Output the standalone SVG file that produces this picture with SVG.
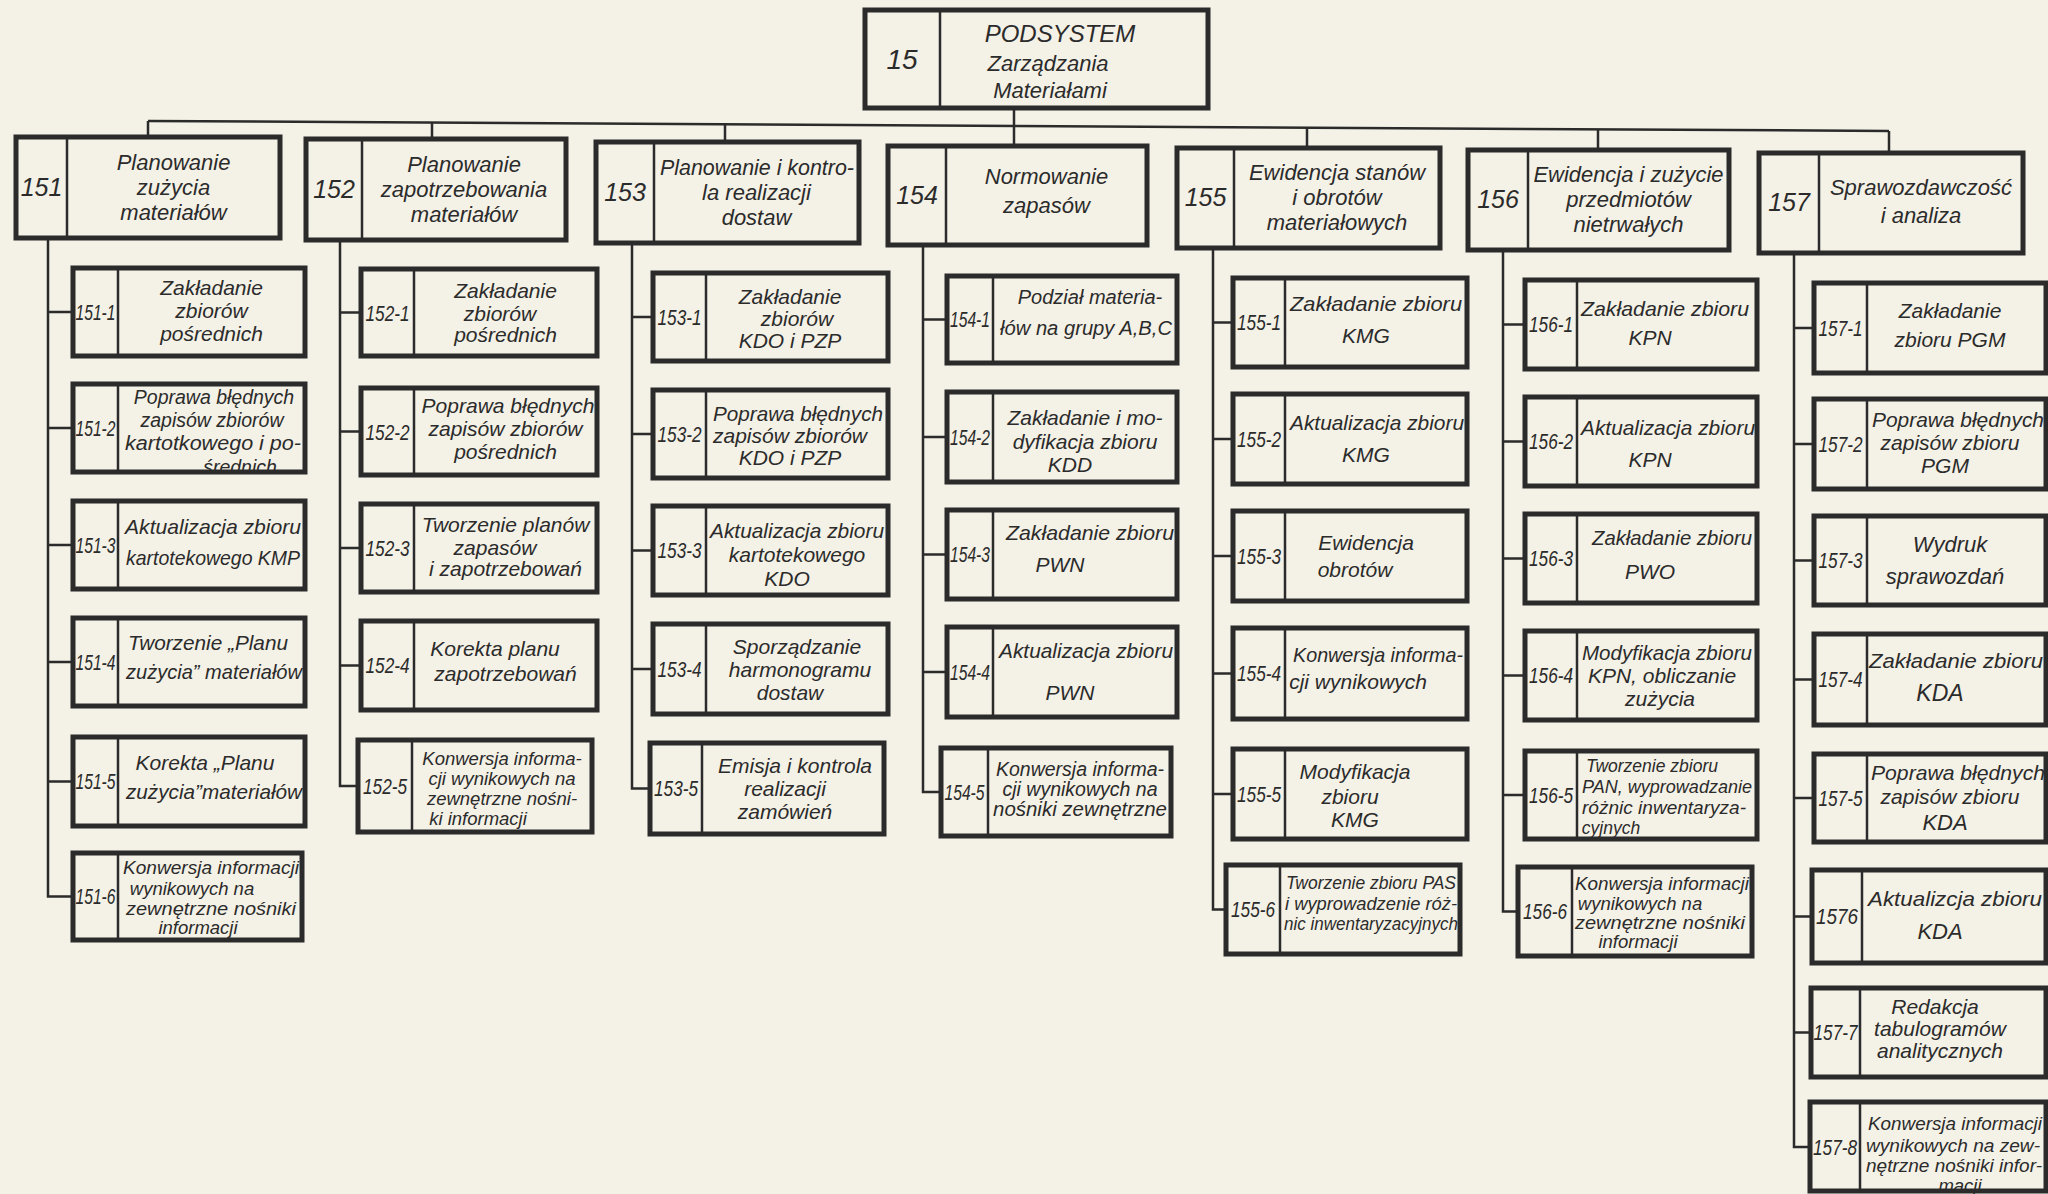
<svg xmlns="http://www.w3.org/2000/svg" width="2048" height="1194" viewBox="0 0 2048 1194">
<style>
.b{fill:none;stroke:#2b2b2b;stroke-width:5}
.d{stroke:#2b2b2b;stroke-width:2.5}
.c{fill:none;stroke:#2b2b2b;stroke-width:2.5}
text{font-family:"Liberation Sans","DejaVu Sans",sans-serif;font-style:italic;fill:#2b2b2b;text-anchor:middle}
.n{font-size:22px}
.t{font-size:21px}
.s{font-size:18.5px}
.h{font-size:22px}
.hn{font-size:25px}
</style>
<rect width="2048" height="1194" fill="#f4f1e6"/>
<g id="connectors" class="c">
<line x1="148" y1="121" x2="1889" y2="131"/>
<line x1="148" y1="121" x2="148" y2="137"/>
<line x1="432" y1="122.6" x2="432" y2="139"/>
<line x1="725" y1="124.3" x2="725" y2="142"/>
<line x1="1014" y1="108" x2="1014" y2="146"/>
<line x1="1307" y1="127.7" x2="1307" y2="148"/>
<line x1="1598" y1="129.3" x2="1598" y2="150"/>
<line x1="1889" y1="131" x2="1889" y2="153"/>
<path d="M48 238V896.5H73M48 312H73M48 428H73M48 545H73M48 662H73M48 781.5H73"/>
<path d="M340 240V786H358M340 312.5H361M340 431.5H361M340 548H361M340 665.5H361"/>
<path d="M632 243V788.5H650M632 317H653M632 434H653M632 550.5H653M632 669H653"/>
<path d="M923 245V792H941M923 319.5H947M923 437H947M923 554.5H947M923 672H947"/>
<path d="M1213 248V909.5H1226M1213 322.5H1233M1213 439H1233M1213 556H1233M1213 673.5H1233M1213 794H1233"/>
<path d="M1503 250V911.5H1518M1503 324.5H1525M1503 441.5H1525M1503 558.5H1525M1503 675.5H1525M1503 795H1525"/>
<path d="M1794 253V1147H1810M1794 328H1814M1794 444H1814M1794 560.5H1814M1794 679.5H1814M1794 798H1814M1794 916.5H1812M1794 1032.5H1811"/>
</g>

<g id="n15">
<rect class="b" x="865" y="10" width="343" height="98"/>
<line class="d" x1="940" y1="10" x2="940" y2="108"/>
<text x="902" y="69" style="font-size:28px">15</text>
<text x="1060" y="42" style="font-size:24px">PODSYSTEM</text>
<text x="1048" y="71" style="font-size:22px">Zarządzania</text>
<text x="1050" y="98" style="font-size:22px">Materiałami</text>
</g>

<g id="n151">
<rect class="b" x="16" y="137" width="264" height="101"/>
<line class="d" x1="67" y1="137" x2="67" y2="238"/>
<text class="hn" x="41.5" y="196">151</text>
<text class="h"><tspan x="173.5" y="170">Planowanie</tspan><tspan x="173.5" y="195">zużycia</tspan><tspan x="173.5" y="220">materiałów</tspan></text>
</g>
<g id="n152">
<rect class="b" x="306" y="139" width="260" height="101"/>
<line class="d" x1="362" y1="139" x2="362" y2="240"/>
<text class="hn" x="334" y="198">152</text>
<text class="h"><tspan x="464" y="172">Planowanie</tspan><tspan x="464" y="197">zapotrzebowania</tspan><tspan x="464" y="222">materiałów</tspan></text>
</g>
<g id="n153">
<rect class="b" x="596" y="142" width="263" height="101"/>
<line class="d" x1="654" y1="142" x2="654" y2="243"/>
<text class="hn" x="625" y="201">153</text>
<text class="h"><tspan x="757" y="175" textLength="194" lengthAdjust="spacingAndGlyphs">Planowanie i kontro-</tspan><tspan x="756.5" y="200">la realizacji</tspan><tspan x="756.5" y="225">dostaw</tspan></text>
</g>
<g id="n154">
<rect class="b" x="888" y="146" width="259" height="99"/>
<line class="d" x1="946" y1="146" x2="946" y2="245"/>
<text class="hn" x="917" y="204">154</text>
<text class="h"><tspan x="1046.5" y="184">Normowanie</tspan><tspan x="1046.5" y="213">zapasów</tspan></text>
</g>
<g id="n155">
<rect class="b" x="1177" y="148" width="263" height="100"/>
<line class="d" x1="1234" y1="148" x2="1234" y2="248"/>
<text class="hn" x="1205.5" y="206">155</text>
<text class="h"><tspan x="1337" y="180">Ewidencja stanów</tspan><tspan x="1337" y="205">i obrotów</tspan><tspan x="1337" y="230">materiałowych</tspan></text>
</g>
<g id="n156">
<rect class="b" x="1468" y="150" width="261" height="100"/>
<line class="d" x1="1528" y1="150" x2="1528" y2="250"/>
<text class="hn" x="1498" y="208">156</text>
<text class="h"><tspan x="1628.5" y="182" textLength="190" lengthAdjust="spacingAndGlyphs">Ewidencja i zużycie</tspan><tspan x="1628.5" y="207">przedmiotów</tspan><tspan x="1628.5" y="232">nietrwałych</tspan></text>
</g>
<g id="n157">
<rect class="b" x="1759" y="153" width="264" height="100"/>
<line class="d" x1="1819" y1="153" x2="1819" y2="253"/>
<text class="hn" x="1789" y="211">157</text>
<text class="h"><tspan x="1921" y="195">Sprawozdawczość</tspan><tspan x="1921" y="223">i analiza</tspan></text>
</g>

<g id="n151-1">
<rect class="b" x="73" y="268" width="232" height="88"/>
<line class="d" x1="118" y1="268" x2="118" y2="356"/>
<text class="n" x="95.5" y="320" textLength="40" lengthAdjust="spacingAndGlyphs">151-1</text>
<text class="t"><tspan x="211.5" y="295">Zakładanie</tspan><tspan x="211.5" y="318">zbiorów</tspan><tspan x="211.5" y="341">pośrednich</tspan></text>
</g>
<g id="n151-2">
<rect class="b" x="73" y="384" width="232" height="88"/>
<line class="d" x1="118" y1="384" x2="118" y2="472"/>
<text class="n" x="95.5" y="436" textLength="40" lengthAdjust="spacingAndGlyphs">151-2</text>
<text class="t" style="font-size:19.5px"><tspan x="214" y="404">Poprawa błędnych</tspan><tspan x="212" y="427">zapisów zbiorów</tspan><tspan x="213" y="450" textLength="176" lengthAdjust="spacingAndGlyphs">kartotkowego i po-</tspan><tspan x="240" y="474">średnich</tspan></text>
</g>
<g id="n151-3">
<rect class="b" x="73" y="501" width="232" height="88"/>
<line class="d" x1="118" y1="501" x2="118" y2="589"/>
<text class="n" x="95.5" y="553" textLength="40" lengthAdjust="spacingAndGlyphs">151-3</text>
<text class="t"><tspan x="213" y="534" textLength="176" lengthAdjust="spacingAndGlyphs">Aktualizacja zbioru</tspan><tspan x="213" y="565" textLength="174" lengthAdjust="spacingAndGlyphs">kartotekowego KMP</tspan></text>
</g>
<g id="n151-4">
<rect class="b" x="73" y="618" width="232" height="88"/>
<line class="d" x1="118" y1="618" x2="118" y2="706"/>
<text class="n" x="95.5" y="670" textLength="40" lengthAdjust="spacingAndGlyphs">151-4</text>
<text class="t"><tspan x="208" y="650" textLength="160" lengthAdjust="spacingAndGlyphs">Tworzenie „Planu</tspan><tspan x="214" y="679" textLength="176" lengthAdjust="spacingAndGlyphs">zużycia” materiałów</tspan></text>
</g>
<g id="n151-5">
<rect class="b" x="73" y="737" width="232" height="89"/>
<line class="d" x1="118" y1="737" x2="118" y2="826"/>
<text class="n" x="95.5" y="789" textLength="40" lengthAdjust="spacingAndGlyphs">151-5</text>
<text class="t"><tspan x="205" y="770">Korekta „Planu</tspan><tspan x="214" y="799" textLength="176" lengthAdjust="spacingAndGlyphs">zużycia”materiałów</tspan></text>
</g>
<g id="n151-6">
<rect class="b" x="73" y="853" width="229" height="87"/>
<line class="d" x1="118" y1="853" x2="118" y2="940"/>
<text class="n" x="95.5" y="904" textLength="40" lengthAdjust="spacingAndGlyphs">151-6</text>
<text class="s"><tspan x="211" y="874" textLength="176" lengthAdjust="spacingAndGlyphs">Konwersja informacji</tspan><tspan x="192" y="895">wynikowych na</tspan><tspan x="211" y="915" textLength="170" lengthAdjust="spacingAndGlyphs">zewnętrzne nośniki</tspan><tspan x="198" y="934">informacji</tspan></text>
</g>

<g id="n152-1">
<rect class="b" x="361" y="269" width="236" height="87"/>
<line class="d" x1="414" y1="269" x2="414" y2="356"/>
<text class="n" x="387.5" y="321" textLength="44" lengthAdjust="spacingAndGlyphs">152-1</text>
<text class="t"><tspan x="505.5" y="298">Zakładanie</tspan><tspan x="500" y="321">zbiorów</tspan><tspan x="505.5" y="342">pośrednich</tspan></text>
</g>
<g id="n152-2">
<rect class="b" x="361" y="388" width="236" height="87"/>
<line class="d" x1="414" y1="388" x2="414" y2="475"/>
<text class="n" x="387.5" y="440" textLength="44" lengthAdjust="spacingAndGlyphs">152-2</text>
<text class="t"><tspan x="508" y="413">Poprawa błędnych</tspan><tspan x="505.5" y="436">zapisów zbiorów</tspan><tspan x="505.5" y="459">pośrednich</tspan></text>
</g>
<g id="n152-3">
<rect class="b" x="361" y="504" width="236" height="88"/>
<line class="d" x1="414" y1="504" x2="414" y2="592"/>
<text class="n" x="387.5" y="556" textLength="44" lengthAdjust="spacingAndGlyphs">152-3</text>
<text class="t"><tspan x="505.5" y="532">Tworzenie planów</tspan><tspan x="495" y="555">zapasów</tspan><tspan x="505.5" y="576">i zapotrzebowań</tspan></text>
</g>
<g id="n152-4">
<rect class="b" x="361" y="621" width="236" height="89"/>
<line class="d" x1="414" y1="621" x2="414" y2="710"/>
<text class="n" x="387.5" y="673" textLength="44" lengthAdjust="spacingAndGlyphs">152-4</text>
<text class="t"><tspan x="495" y="656">Korekta planu</tspan><tspan x="505.5" y="681">zapotrzebowań</tspan></text>
</g>
<g id="n152-5">
<rect class="b" x="358" y="740" width="234" height="92"/>
<line class="d" x1="412" y1="740" x2="412" y2="832"/>
<text class="n" x="385" y="794" textLength="44" lengthAdjust="spacingAndGlyphs">152-5</text>
<text class="s"><tspan x="502" y="765">Konwersja informa-</tspan><tspan x="502" y="785">cji wynikowych na</tspan><tspan x="502" y="805">zewnętrzne nośni-</tspan><tspan x="478" y="825">ki informacji</tspan></text>
</g>

<g id="n153-1">
<rect class="b" x="653" y="273" width="235" height="88"/>
<line class="d" x1="706" y1="273" x2="706" y2="361"/>
<text class="n" x="679.5" y="325" textLength="44" lengthAdjust="spacingAndGlyphs">153-1</text>
<text class="t"><tspan x="790" y="304">Zakładanie</tspan><tspan x="797" y="326">zbiorów</tspan><tspan x="790" y="348">KDO i PZP</tspan></text>
</g>
<g id="n153-2">
<rect class="b" x="653" y="390" width="235" height="88"/>
<line class="d" x1="706" y1="390" x2="706" y2="478"/>
<text class="n" x="679.5" y="442" textLength="44" lengthAdjust="spacingAndGlyphs">153-2</text>
<text class="t"><tspan x="798" y="421" textLength="170" lengthAdjust="spacingAndGlyphs">Poprawa błędnych</tspan><tspan x="790" y="443">zapisów zbiorów</tspan><tspan x="790" y="465">KDO i PZP</tspan></text>
</g>
<g id="n153-3">
<rect class="b" x="653" y="506" width="235" height="89"/>
<line class="d" x1="706" y1="506" x2="706" y2="595"/>
<text class="n" x="679.5" y="558" textLength="44" lengthAdjust="spacingAndGlyphs">153-3</text>
<text class="t"><tspan x="797" y="538" textLength="174" lengthAdjust="spacingAndGlyphs">Aktualizacja zbioru</tspan><tspan x="797" y="562">kartotekowego</tspan><tspan x="787" y="586">KDO</tspan></text>
</g>
<g id="n153-4">
<rect class="b" x="653" y="624" width="235" height="90"/>
<line class="d" x1="706" y1="624" x2="706" y2="714"/>
<text class="n" x="679.5" y="677" textLength="44" lengthAdjust="spacingAndGlyphs">153-4</text>
<text class="t"><tspan x="797" y="654">Sporządzanie</tspan><tspan x="800" y="677">harmonogramu</tspan><tspan x="790" y="700">dostaw</tspan></text>
</g>
<g id="n153-5">
<rect class="b" x="650" y="743" width="234" height="91"/>
<line class="d" x1="702" y1="743" x2="702" y2="834"/>
<text class="n" x="676" y="796" textLength="44" lengthAdjust="spacingAndGlyphs">153-5</text>
<text class="t"><tspan x="795" y="773">Emisja i kontrola</tspan><tspan x="785" y="796">realizacji</tspan><tspan x="785" y="819">zamówień</tspan></text>
</g>

<g id="n154-1">
<rect class="b" x="947" y="276" width="230" height="87"/>
<line class="d" x1="993" y1="276" x2="993" y2="363"/>
<text class="n" x="970" y="327" textLength="40" lengthAdjust="spacingAndGlyphs">154-1</text>
<text class="t" style="font-size:20px"><tspan x="1090" y="304">Podział materia-</tspan><tspan x="1086" y="335" textLength="172" lengthAdjust="spacingAndGlyphs">łów na grupy A,B,C</tspan></text>
</g>
<g id="n154-2">
<rect class="b" x="947" y="392" width="230" height="90"/>
<line class="d" x1="993" y1="392" x2="993" y2="482"/>
<text class="n" x="970" y="445" textLength="40" lengthAdjust="spacingAndGlyphs">154-2</text>
<text class="t"><tspan x="1085" y="425">Zakładanie i mo-</tspan><tspan x="1085" y="449">dyfikacja zbioru</tspan><tspan x="1070" y="472">KDD</tspan></text>
</g>
<g id="n154-3">
<rect class="b" x="947" y="510" width="230" height="89"/>
<line class="d" x1="993" y1="510" x2="993" y2="599"/>
<text class="n" x="970" y="562" textLength="40" lengthAdjust="spacingAndGlyphs">154-3</text>
<text class="t"><tspan x="1090" y="540" textLength="168" lengthAdjust="spacingAndGlyphs">Zakładanie zbioru</tspan><tspan x="1060" y="572">PWN</tspan></text>
</g>
<g id="n154-4">
<rect class="b" x="947" y="627" width="230" height="90"/>
<line class="d" x1="993" y1="627" x2="993" y2="717"/>
<text class="n" x="970" y="680" textLength="40" lengthAdjust="spacingAndGlyphs">154-4</text>
<text class="t"><tspan x="1086" y="658" textLength="174" lengthAdjust="spacingAndGlyphs">Aktualizacja zbioru</tspan><tspan x="1070" y="700">PWN</tspan></text>
</g>
<g id="n154-5">
<rect class="b" x="941" y="748" width="230" height="88"/>
<line class="d" x1="988" y1="748" x2="988" y2="836"/>
<text class="n" x="964.5" y="800" textLength="40" lengthAdjust="spacingAndGlyphs">154-5</text>
<text class="t" style="font-size:19.5px"><tspan x="1080" y="776">Konwersja informa-</tspan><tspan x="1080" y="796">cji wynikowych na</tspan><tspan x="1080" y="816" textLength="174" lengthAdjust="spacingAndGlyphs">nośniki zewnętrzne</tspan></text>
</g>

<g id="n155-1">
<rect class="b" x="1233" y="278" width="234" height="89"/>
<line class="d" x1="1285" y1="278" x2="1285" y2="367"/>
<text class="n" x="1259" y="330" textLength="44" lengthAdjust="spacingAndGlyphs">155-1</text>
<text class="t"><tspan x="1376" y="311" textLength="172" lengthAdjust="spacingAndGlyphs">Zakładanie zbioru</tspan><tspan x="1366" y="343">KMG</tspan></text>
</g>
<g id="n155-2">
<rect class="b" x="1233" y="394" width="234" height="90"/>
<line class="d" x1="1285" y1="394" x2="1285" y2="484"/>
<text class="n" x="1259" y="447" textLength="44" lengthAdjust="spacingAndGlyphs">155-2</text>
<text class="t"><tspan x="1377" y="430" textLength="174" lengthAdjust="spacingAndGlyphs">Aktualizacja zbioru</tspan><tspan x="1366" y="462">KMG</tspan></text>
</g>
<g id="n155-3">
<rect class="b" x="1233" y="511" width="234" height="90"/>
<line class="d" x1="1285" y1="511" x2="1285" y2="601"/>
<text class="n" x="1259" y="564" textLength="44" lengthAdjust="spacingAndGlyphs">155-3</text>
<text class="t"><tspan x="1366" y="550">Ewidencja</tspan><tspan x="1355" y="577">obrotów</tspan></text>
</g>
<g id="n155-4">
<rect class="b" x="1233" y="628" width="234" height="91"/>
<line class="d" x1="1285" y1="628" x2="1285" y2="719"/>
<text class="n" x="1259" y="681" textLength="44" lengthAdjust="spacingAndGlyphs">155-4</text>
<text class="t"><tspan x="1378" y="662" textLength="170" lengthAdjust="spacingAndGlyphs">Konwersja informa-</tspan><tspan x="1358" y="689">cji wynikowych</tspan></text>
</g>
<g id="n155-5">
<rect class="b" x="1233" y="749" width="234" height="90"/>
<line class="d" x1="1285" y1="749" x2="1285" y2="839"/>
<text class="n" x="1259" y="802" textLength="44" lengthAdjust="spacingAndGlyphs">155-5</text>
<text class="t"><tspan x="1355" y="779">Modyfikacja</tspan><tspan x="1350" y="804">zbioru</tspan><tspan x="1355" y="827">KMG</tspan></text>
</g>
<g id="n155-6">
<rect class="b" x="1226" y="865" width="234" height="89"/>
<line class="d" x1="1280" y1="865" x2="1280" y2="954"/>
<text class="n" x="1253" y="917" textLength="44" lengthAdjust="spacingAndGlyphs">155-6</text>
<text class="s"><tspan x="1371" y="889" textLength="170" lengthAdjust="spacingAndGlyphs">Tworzenie zbioru PAS</tspan><tspan x="1371" y="910" textLength="172" lengthAdjust="spacingAndGlyphs">i wyprowadzenie róż-</tspan><tspan x="1371" y="930" textLength="174" lengthAdjust="spacingAndGlyphs">nic inwentaryzacyjnych</tspan></text>
</g>

<g id="n156-1">
<rect class="b" x="1525" y="280" width="232" height="89"/>
<line class="d" x1="1577" y1="280" x2="1577" y2="369"/>
<text class="n" x="1551" y="332" textLength="44" lengthAdjust="spacingAndGlyphs">156-1</text>
<text class="t"><tspan x="1665" y="316" textLength="168" lengthAdjust="spacingAndGlyphs">Zakładanie zbioru</tspan><tspan x="1650" y="345">KPN</tspan></text>
</g>
<g id="n156-2">
<rect class="b" x="1525" y="397" width="232" height="89"/>
<line class="d" x1="1577" y1="397" x2="1577" y2="486"/>
<text class="n" x="1551" y="449" textLength="44" lengthAdjust="spacingAndGlyphs">156-2</text>
<text class="t"><tspan x="1668" y="435" textLength="174" lengthAdjust="spacingAndGlyphs">Aktualizacja zbioru</tspan><tspan x="1650" y="467">KPN</tspan></text>
</g>
<g id="n156-3">
<rect class="b" x="1525" y="514" width="232" height="89"/>
<line class="d" x1="1577" y1="514" x2="1577" y2="603"/>
<text class="n" x="1551" y="566" textLength="44" lengthAdjust="spacingAndGlyphs">156-3</text>
<text class="t"><tspan x="1672" y="545" textLength="160" lengthAdjust="spacingAndGlyphs">Zakładanie zbioru</tspan><tspan x="1650" y="579">PWO</tspan></text>
</g>
<g id="n156-4">
<rect class="b" x="1525" y="631" width="232" height="89"/>
<line class="d" x1="1577" y1="631" x2="1577" y2="720"/>
<text class="n" x="1551" y="683" textLength="44" lengthAdjust="spacingAndGlyphs">156-4</text>
<text class="t"><tspan x="1667" y="660" textLength="170" lengthAdjust="spacingAndGlyphs">Modyfikacja zbioru</tspan><tspan x="1662" y="683">KPN, obliczanie</tspan><tspan x="1660" y="706">zużycia</tspan></text>
</g>
<g id="n156-5">
<rect class="b" x="1525" y="751" width="232" height="88"/>
<line class="d" x1="1577" y1="751" x2="1577" y2="839"/>
<text class="n" x="1551" y="803" textLength="44" lengthAdjust="spacingAndGlyphs">156-5</text>
<text style="font-size:17.5px"><tspan x="1652" y="772">Tworzenie zbioru</tspan><tspan x="1667" y="793" textLength="170" lengthAdjust="spacingAndGlyphs">PAN, wyprowadzanie</tspan><tspan x="1664" y="814" textLength="164" lengthAdjust="spacingAndGlyphs">różnic inwentaryza-</tspan><tspan x="1611" y="834">cyjnych</tspan></text>
</g>
<g id="n156-6">
<rect class="b" x="1518" y="867" width="234" height="89"/>
<line class="d" x1="1572" y1="867" x2="1572" y2="956"/>
<text class="n" x="1545" y="919" textLength="44" lengthAdjust="spacingAndGlyphs">156-6</text>
<text class="s"><tspan x="1662" y="890" textLength="174" lengthAdjust="spacingAndGlyphs">Konwersja informacji</tspan><tspan x="1640" y="910">wynikowych na</tspan><tspan x="1660" y="929" textLength="170" lengthAdjust="spacingAndGlyphs">zewnętrzne nośniki</tspan><tspan x="1638" y="948">informacji</tspan></text>
</g>

<g id="n157-1">
<rect class="b" x="1814" y="283" width="232" height="90"/>
<line class="d" x1="1867" y1="283" x2="1867" y2="373"/>
<text class="n" x="1840.5" y="336" textLength="44" lengthAdjust="spacingAndGlyphs">157-1</text>
<text class="t"><tspan x="1950" y="318">Zakładanie</tspan><tspan x="1950" y="347">zbioru PGM</tspan></text>
</g>
<g id="n157-2">
<rect class="b" x="1814" y="399" width="232" height="90"/>
<line class="d" x1="1867" y1="399" x2="1867" y2="489"/>
<text class="n" x="1840.5" y="452" textLength="44" lengthAdjust="spacingAndGlyphs">157-2</text>
<text class="t"><tspan x="1958" y="427" textLength="172" lengthAdjust="spacingAndGlyphs">Poprawa błędnych</tspan><tspan x="1950" y="450">zapisów zbioru</tspan><tspan x="1945" y="473">PGM</tspan></text>
</g>
<g id="n157-3">
<rect class="b" x="1814" y="516" width="232" height="89"/>
<line class="d" x1="1867" y1="516" x2="1867" y2="605"/>
<text class="n" x="1840.5" y="568" textLength="44" lengthAdjust="spacingAndGlyphs">157-3</text>
<text class="t" style="font-size:22px"><tspan x="1950" y="552">Wydruk</tspan><tspan x="1945" y="584">sprawozdań</tspan></text>
</g>
<g id="n157-4">
<rect class="b" x="1814" y="634" width="232" height="91"/>
<line class="d" x1="1867" y1="634" x2="1867" y2="725"/>
<text class="n" x="1840.5" y="687" textLength="44" lengthAdjust="spacingAndGlyphs">157-4</text>
<text class="t"><tspan x="1956" y="668" textLength="174" lengthAdjust="spacingAndGlyphs">Zakładanie zbioru</tspan><tspan x="1940" y="701" style="font-size:23px">KDA</tspan></text>
</g>
<g id="n157-5">
<rect class="b" x="1814" y="754" width="232" height="88"/>
<line class="d" x1="1867" y1="754" x2="1867" y2="842"/>
<text class="n" x="1840.5" y="806" textLength="44" lengthAdjust="spacingAndGlyphs">157-5</text>
<text class="t"><tspan x="1958" y="780" textLength="174" lengthAdjust="spacingAndGlyphs">Poprawa błędnych</tspan><tspan x="1950" y="804">zapisów zbioru</tspan><tspan x="1945" y="830" style="font-size:22px">KDA</tspan></text>
</g>
<g id="n157-6">
<rect class="b" x="1812" y="870" width="234" height="93"/>
<line class="d" x1="1862" y1="870" x2="1862" y2="963"/>
<text class="n" x="1837" y="924" textLength="42" lengthAdjust="spacingAndGlyphs">1576</text>
<text class="t"><tspan x="1955" y="906" textLength="174" lengthAdjust="spacingAndGlyphs">Aktualizcja zbioru</tspan><tspan x="1940" y="939" style="font-size:22px">KDA</tspan></text>
</g>
<g id="n157-7">
<rect class="b" x="1811" y="988" width="235" height="89"/>
<line class="d" x1="1860" y1="988" x2="1860" y2="1077"/>
<text class="n" x="1835.5" y="1040" textLength="44" lengthAdjust="spacingAndGlyphs">157-7</text>
<text class="t"><tspan x="1935" y="1014">Redakcja</tspan><tspan x="1940" y="1036">tabulogramów</tspan><tspan x="1940" y="1058">analitycznych</tspan></text>
</g>
<g id="n157-8">
<rect class="b" x="1810" y="1102" width="236" height="89"/>
<line class="d" x1="1860" y1="1102" x2="1860" y2="1191"/>
<text class="n" x="1835" y="1155" textLength="44" lengthAdjust="spacingAndGlyphs">157-8</text>
<text class="s"><tspan x="1955" y="1130" textLength="174" lengthAdjust="spacingAndGlyphs">Konwersja informacji</tspan><tspan x="1953" y="1152" textLength="174" lengthAdjust="spacingAndGlyphs">wynikowych na zew-</tspan><tspan x="1954" y="1172" textLength="176" lengthAdjust="spacingAndGlyphs">nętrzne nośniki infor-</tspan><tspan x="1960" y="1192">macji</tspan></text>
</g>
</svg>
